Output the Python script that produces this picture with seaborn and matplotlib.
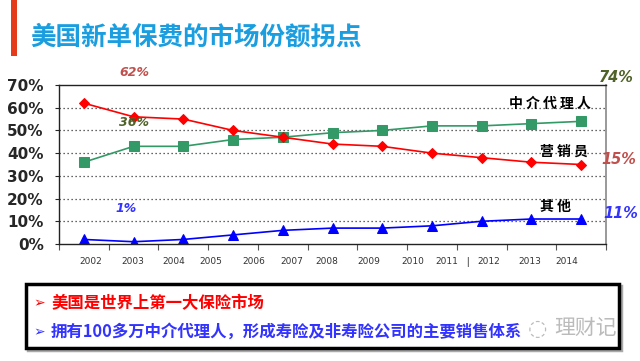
import numpy as np
import pandas as pd
import matplotlib
matplotlib.use("Agg")
import matplotlib.pyplot as plt
import matplotlib.transforms as mtransforms
from matplotlib.patches import Rectangle
import seaborn as sns

# --- data ---
POINT_IDX = list(range(11))
AGENT = [36, 43, 43, 46, 47, 49, 50, 52, 52, 53, 54]      # 中介代理人
SALES = [62, 56, 55, 50, 47, 44, 43, 40, 38, 36, 35]      # 营销员
OTHER = [2, 1, 2, 4, 6, 7, 7, 8, 10, 11, 11]              # 其他
SERIES = ["中介代理人", "营销员", "其他"]

YEARS = [str(y) for y in range(2002, 2015)]
YEAR_POS = [0.14, 0.99, 1.81, 2.56, 3.42, 4.18, 4.88, 5.73, 6.61, 7.30, 8.15, 8.97, 9.71]
Y_TICKS = [0, 10, 20, 30, 40, 50, 60, 70]

BULLETS = ["美国是世界上第一大保险市场",
           "拥有100多万中介代理人，形成寿险及非寿险公司的主要销售体系"]

df = pd.concat([
    pd.DataFrame({"idx": POINT_IDX, "share": AGENT, "channel": SERIES[0]}),
    pd.DataFrame({"idx": POINT_IDX, "share": SALES, "channel": SERIES[1]}),
    pd.DataFrame({"idx": POINT_IDX, "share": OTHER, "channel": SERIES[2]}),
])

sns.set_style("white")
plt.rcParams['font.family'] = ['Noto Sans CJK SC', 'DejaVu Sans']

W, H = 640, 361
fig = plt.figure(figsize=(6.4, 3.61), dpi=100)


def px(x, y):
    return x / W, 1 - y / H


# axes area in pixels: left 59, right 606, top 85, bottom 244
ax = fig.add_axes([59 / W, 1 - 244 / H, (606 - 59) / W, (244 - 85) / H])

palette = {SERIES[0]: "#339966", SERIES[1]: "#ff0000", SERIES[2]: "#0000ff"}
markers = {SERIES[0]: "s", SERIES[1]: "D", SERIES[2]: "^"}
sizes_m = {SERIES[0]: 7, SERIES[1]: 5, SERIES[2]: 7}

for name in SERIES:
    sub = df[df["channel"] == name]
    sns.lineplot(data=sub, x="idx", y="share", color=palette[name], marker=markers[name],
                 markersize=sizes_m[name], markeredgecolor=palette[name], linewidth=1.2,
                 ax=ax, legend=False)

ax.set_xlim(-0.5, 10.5)
ax.set_ylim(0, 70)
ax.set_xlabel("")
ax.set_ylabel("")
ax.set_yticks(Y_TICKS)
ax.set_yticklabels([f"{v}%" for v in Y_TICKS], fontsize=11, fontweight="bold",
                   family="DejaVu Sans")
ax.set_xticks(np.arange(-0.5, 11, 1))
ax.set_xticklabels([])
ax.tick_params(axis="x", direction="out", length=4, width=0.8, bottom=True, colors="#555555")
ax.tick_params(axis="y", direction="out", length=3, width=0.8, left=True, pad=8)
for v in Y_TICKS[1:-1]:
    ax.axhline(v, color="#333333", linestyle=(0, (1, 2.2)), linewidth=0.9, zorder=0)
for s in ["left", "bottom", "top"]:
    ax.spines[s].set_color("#222222")
    ax.spines[s].set_linewidth(1.0)
ax.spines["right"].set_color("#888888")
ax.spines["right"].set_linewidth(1.2)

# year labels (positioned irregularly as in the source)
trans = mtransforms.blended_transform_factory(ax.transData, fig.transFigure)
for yr, pos in zip(YEARS, YEAR_POS):
    ax.text(pos, 1 - 261 / H, yr, transform=trans, ha="center", va="center",
            fontsize=6.5, color="#333333", family="DejaVu Sans")
ax.text(7.72, 1 - 262 / H, "|", transform=trans, ha="center", va="center",
        fontsize=6, fontweight="bold", color="#222222")

# value callouts
callouts = [("62%", 134, 72, "#c0504d", 9), ("36%", 134, 122, "#4f6228", 9),
            ("1%", 126, 209, "#3333ff", 9), ("74%", 616, 77, "#4f6228", 10.5),
            ("15%", 619, 159, "#c0504d", 10.5), ("11%", 621, 214, "#3333ff", 10.5)]
for txt, x, y, c, fs in callouts:
    fig.text(*px(x, y), txt, ha="center", va="center", color=c, fontsize=fs,
             fontweight="bold", fontstyle="italic", family="DejaVu Sans")

# series names
for txt, x, y in [("中 介 代 理 人", 550, 104), ("营 销 员", 564, 152), ("其 他", 555, 207)]:
    fig.text(*px(x, y), txt, ha="center", va="center", color="black", fontsize=10,
             fontweight="bold")

# title and red bar
fig.patches.append(Rectangle(px(11, 56), 6 / W, 56 / H, transform=fig.transFigure,
                             facecolor="#e63b1a", edgecolor="none"))
fig.text(*px(30, 37), "美国新单保费的市场份额拐点", ha="left", va="center",
         fontsize=18.4, fontweight="bold", color="#1b9ee0")

# bottom box
fig.patches.append(Rectangle(px(28, 350), (619 - 26) / W, (348 - 284) / H,
                             transform=fig.transFigure, facecolor="none",
                             edgecolor="#aaaaaa", linewidth=2.5))
fig.patches.append(Rectangle(px(26, 348), (619 - 26) / W, (348 - 284) / H,
                             transform=fig.transFigure, facecolor="white",
                             edgecolor="black", linewidth=2.5))
for txt, y, c in [(BULLETS[0], 303, "#ff0000"), (BULLETS[1], 332, "#3333ff")]:
    fig.text(*px(33, y), "➢", ha="left", va="center", color=c, fontsize=10,
             family="DejaVu Sans")
    fig.text(*px(51, y), txt, ha="left", va="center", color=c, fontsize=11.8,
             fontweight="bold")

# watermark
fig.text(*px(537, 329), "◌", ha="center", va="center", color="#bbbbbb", fontsize=16,
         family="DejaVu Sans")
fig.text(*px(586, 328), "理财记", ha="center", va="center", color="#bbbbbb", fontsize=15)

fig.savefig("out.png", dpi=100)
